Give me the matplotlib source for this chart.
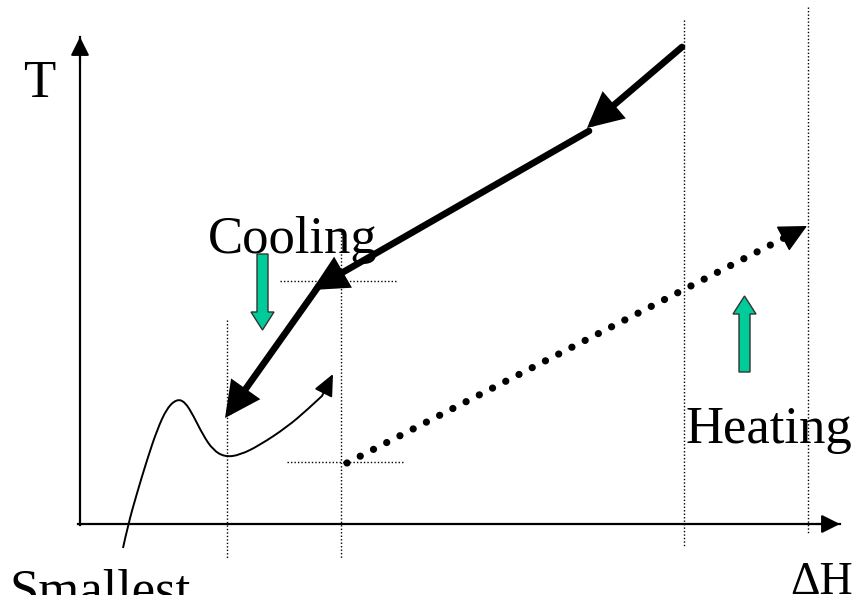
import numpy as np
import matplotlib
matplotlib.use("Agg")
import matplotlib.pyplot as plt
from matplotlib.patches import FancyArrow, PathPatch
from matplotlib.path import Path

# schematic laid out in pixel units (x right, y down)
W, H = 857, 595

# axes
y_axis = ([80, 80], [525, 37])
x_axis = ([78, 840], [524, 524])

# thick cooling path, three arrowed segments (start, end)
cool_segs = [((682, 47), (587, 128)),
             ((589, 131), (312, 290)),
             ((318, 287), (225, 418))]

# thin energy curve (control points)
curve_x = [123, 128, 137, 147, 157, 167, 177, 185, 193, 203, 213, 225, 240, 260, 287, 307, 322]
curve_y = [548, 525, 493, 460, 430, 408, 399, 402, 415, 435, 450, 457, 455, 445, 427, 410, 396]
curve_tip = (333, 374)

# dotted heating path
heat_start = (347, 463)
heat_end = (786, 237)
heat_tip = (807, 226)

# guide lines (x0, x1, y0, y1)
guides = [(227, 227, 320, 558),
          (341, 341, 233, 558),
          (280, 398, 281, 281),
          (287, 405, 462, 462),
          (684, 684, 20, 546),
          (808, 808, 7, 533)]

# block arrows: (x, y_start, dy)
green = "#00CC99"
block_arrows = [(262.5, 254, 76), (744.5, 372, -76)]

labels = [("T", 23, 97, 38), ("Cooling", 208, 253, 38), ("Heating", 686, 443, 38),
          ("ΔH", 790, 594, 33), ("Smallest", 10, 605, 38)]

fig = plt.figure(figsize=(W / 100, H / 100), dpi=100)
ax = fig.add_axes([0, 0, 1, 1])
ax.set_xlim(0, W)
ax.set_ylim(H, 0)
ax.axis("off")

for gx0, gx1, gy0, gy1 in guides:
    ax.plot([gx0, gx1], [gy0, gy1], color="k", lw=1, linestyle=(0, (1, 1.5)))

# axis arrows
ax.plot(*y_axis, color="k", lw=1.6)
ax.plot(*x_axis, color="k", lw=1.6)
ax.annotate("", xy=(80, 37), xytext=(80, 60),
            arrowprops=dict(arrowstyle="-|>", lw=1.5, color="k",
                            mutation_scale=28, shrinkA=0, shrinkB=0))
ax.annotate("", xy=(840, 524), xytext=(815, 524),
            arrowprops=dict(arrowstyle="-|>", lw=1.5, color="k",
                            mutation_scale=28, shrinkA=0, shrinkB=0))

# cooling path
for (sx, sy), (ex, ey) in cool_segs:
    ax.annotate("", xy=(ex, ey), xytext=(sx, sy),
                arrowprops=dict(arrowstyle="-|>,head_length=0.6,head_width=0.3",
                                lw=4.8, color="k", mutation_scale=30,
                                shrinkA=0, shrinkB=0, joinstyle="miter"))

# thin curve, smoothed as a quadratic b-spline through the control points
pts = np.column_stack([curve_x, curve_y]).astype(float)
verts = [pts[0]]
codes = [Path.MOVETO]
for k in range(1, len(pts) - 1):
    end = pts[-1] if k == len(pts) - 2 else (pts[k] + pts[k + 1]) / 2
    verts += [pts[k], end]
    codes += [Path.CURVE3, Path.CURVE3]
ax.add_patch(PathPatch(Path(verts, codes), facecolor="none", edgecolor="k", lw=1.4))
ax.annotate("", xy=curve_tip, xytext=(curve_x[-1], curve_y[-1]),
            arrowprops=dict(arrowstyle="-|>,head_length=0.55,head_width=0.25",
                            lw=1.4, color="k", mutation_scale=24,
                            shrinkA=0, shrinkB=0))

# dotted heating path
ax.plot([heat_start[0], heat_end[0]], [heat_start[1], heat_end[1]], color="k",
        lw=5.2, linestyle=(0, (0.01, 2.05)), dash_capstyle="round")
ax.annotate("", xy=heat_tip, xytext=heat_end,
            arrowprops=dict(arrowstyle="-|>,head_length=0.6,head_width=0.3",
                            lw=1, color="k", mutation_scale=30,
                            shrinkA=0, shrinkB=0))

# green block arrows
for bx, by, dy in block_arrows:
    ax.add_patch(FancyArrow(bx, by, 0, dy, width=11, head_width=23,
                            head_length=18, length_includes_head=True,
                            facecolor=green, edgecolor="#333333", lw=1))

for txt, tx, ty, fs in labels:
    ax.text(tx, ty, txt, fontsize=fs, family="Liberation Serif",
            ha="left", va="baseline", color="k")

fig.savefig("out.png", dpi=100)
